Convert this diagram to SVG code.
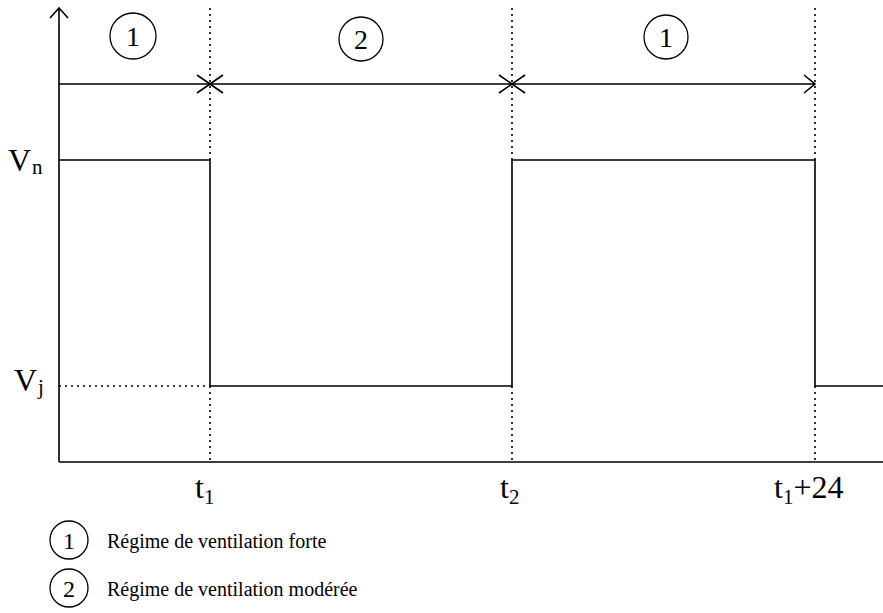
<svg xmlns="http://www.w3.org/2000/svg" width="883" height="613" viewBox="0 0 883 613">
<style>
.ln{stroke:#000;stroke-width:1.6;fill:none}
.dot{stroke:#000;stroke-width:1.6;fill:none;stroke-dasharray:2 4}
.c{stroke:#000;stroke-width:1.3;fill:none}
text{fill:#000}
.lbl{font-size:32px}
.sub{font-size:21px}
.num{font-size:28px;text-anchor:middle}
.leg{font-size:20px}
</style>
<rect width="883" height="613" fill="#fff"/>
<g id="connectors">
<path class="ln" d="M59,462 V8 M50,18 L59,8 L68,18"/>
<path class="ln" d="M59,462 H895 M884,455 L895,462 L884,469"/>
<path class="ln" d="M59,84 H815 M804,75 L815,84 L804,93"/>
<path class="ln" d="M197,75 L223,93 M197,93 L223,75"/>
<path class="ln" d="M499,75 L525,93 M499,93 L525,75"/>
<path class="dot" d="M210,8 V160 M512,8 V160 M815,8 V160 M210,386 V462 M512,386 V462 M815,386 V462 M59,386 H210"/>
<path class="ln" d="M59,160 H210 V386 H512 V160 H815 V386 H883"/>
</g>
<g font-family="'Liberation Serif','Times New Roman','DejaVu Serif',serif">
<g id="phase1a"><circle class="c" cx="133" cy="36" r="23"/><text class="num" x="133" y="46">1</text></g>
<g id="phase2"><circle class="c" cx="361" cy="39" r="22"/><text class="num" x="361" y="49">2</text></g>
<g id="phase1b"><circle class="c" cx="666" cy="37" r="22"/><text class="num" x="666" y="47">1</text></g>
<g id="labels">
<text class="lbl" x="8" y="171">V<tspan class="sub" dx="1" dy="3">n</tspan></text>
<text class="lbl" x="14" y="391">V<tspan class="sub" dx="1" dy="3">j</tspan></text>
<text class="lbl" x="195" y="498">t<tspan class="sub" dy="6">1</tspan></text>
<text class="lbl" x="500" y="498">t<tspan class="sub" dy="6">2</tspan></text>
<text class="lbl" x="774" y="498">t<tspan class="sub" dy="6">1</tspan><tspan dy="-6">+24</tspan></text>
</g>
<g id="legend1"><circle class="c" cx="69" cy="540" r="19"/><text class="num" x="69" y="549" style="font-size:24px">1</text><text class="leg" x="107" y="548">Régime de ventilation forte</text></g>
<g id="legend2"><circle class="c" cx="69" cy="588" r="19"/><text class="num" x="69" y="597" style="font-size:24px">2</text><text class="leg" x="107" y="596">Régime de ventilation modérée</text></g>
</g>
</svg>
